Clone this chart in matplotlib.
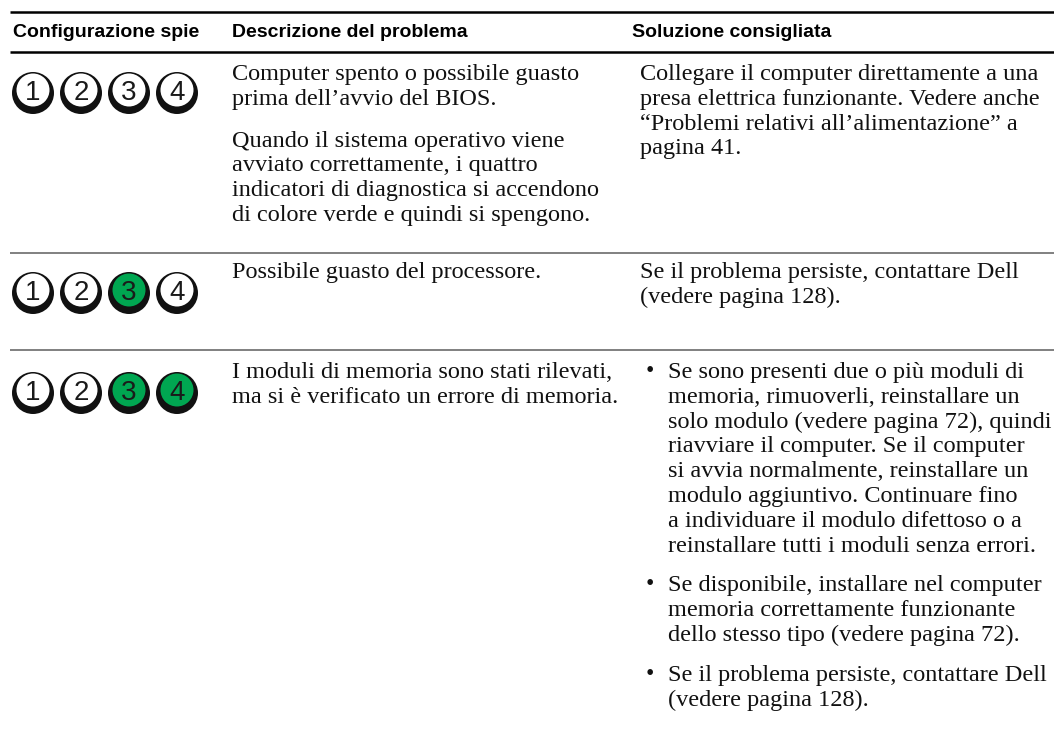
import matplotlib.pyplot as plt
from matplotlib.patches import Circle

# Table content
headers = ["Configurazione spie", "Descrizione del problema", "Soluzione consigliata"]

# LED state per row: True = green (lit)
led_states = [
    [False, False, False, False],
    [False, False, True, False],
    [False, False, True, True],
]

# description column: list of paragraphs (each a list of lines)
descriptions = [
    [["Computer spento o possibile guasto", "prima dell\u2019avvio del BIOS."],
     ["Quando il sistema operativo viene", "avviato correttamente, i quattro",
      "indicatori di diagnostica si accendono", "di colore verde e quindi si spengono."]],
    [["Possibile guasto del processore."]],
    [["I moduli di memoria sono stati rilevati,", "ma si \u00e8 verificato un errore di memoria."]],
]

# solution column: (bullet?, lines)
solutions = [
    [(False, ["Collegare il computer direttamente a una", "presa elettrica funzionante. Vedere anche",
              "\u201cProblemi relativi all\u2019alimentazione\u201d a", "pagina 41."])],
    [(False, ["Se il problema persiste, contattare Dell", "(vedere pagina 128)."])],
    [(True, ["Se sono presenti due o pi\u00f9 moduli di", "memoria, rimuoverli, reinstallare un",
             "solo modulo (vedere pagina 72), quindi", "riavviare il computer. Se il computer",
             "si avvia normalmente, reinstallare un", "modulo aggiuntivo. Continuare fino",
             "a individuare il modulo difettoso o a", "reinstallare tutti i moduli senza errori."]),
     (True, ["Se disponibile, installare nel computer", "memoria correttamente funzionante",
             "dello stesso tipo (vedere pagina 72)."]),
     (True, ["Se il problema persiste, contattare Dell", "(vedere pagina 128)."])],
]

# layout (pixels)
W, H = 1054, 751
row_lines = [253, 350]
first_baseline = [80, 278, 378]
led_y = [93, 293, 393]
led_x = [33, 81, 129, 177]
line_h = 24.8
para_gap = 17
bullet_gap = 15
green = "#00a651"
ink = "#111111"

head_font = "Liberation Sans"
body_font = "Liberation Serif"

fig = plt.figure(figsize=(W / 100, H / 100), dpi=100)
ax = fig.add_axes([0, 0, 1, 1])
ax.set_xlim(0, W)
ax.set_ylim(H, 0)
ax.axis("off")

# rules
ax.plot([10, W], [12, 12], color="black", lw=1.8, solid_capstyle="butt")
ax.plot([10, W], [52, 52], color="black", lw=1.8, solid_capstyle="butt")
for y in row_lines:
    ax.plot([10, W], [y, y], color="#808080", lw=1.4, solid_capstyle="butt")

# headers
for x, h in zip([13, 232, 632], headers):
    ax.text(x, 37, h, family=head_font, weight="bold", fontsize=14,
            va="baseline", ha="left", color="black")

# LEDs
for r, states in enumerate(led_states):
    cy = led_y[r]
    for i, (cx, on) in enumerate(zip(led_x, states)):
        ax.add_patch(Circle((cx, cy), 21, facecolor=ink, edgecolor="none"))
        ax.add_patch(Circle((cx, cy - 3), 16.5, facecolor=green if on else "white",
                            edgecolor="none"))
        ax.text(cx, cy + 7, str(i + 1), family="Liberation Sans", fontsize=20,
                ha="center", va="baseline", color="#1a1a1a")

body_kw = dict(family=body_font, fontsize=17.5, va="baseline", ha="left", color=ink)

# descriptions
for r, paras in enumerate(descriptions):
    y = first_baseline[r]
    for p in paras:
        for line in p:
            ax.text(232, y, line, **body_kw)
            y += line_h
        y += para_gap

# solutions
for r, items in enumerate(solutions):
    y = first_baseline[r]
    for bullet, lines in items:
        x = 640
        if bullet:
            ax.text(650, y - 1, "\u2022", family=body_font, fontsize=17, ha="center",
                    va="baseline", color=ink)
            x = 668
        for line in lines:
            ax.text(x, y, line, **body_kw)
            y += line_h
        y += bullet_gap

fig.savefig("out.png", dpi=100)
